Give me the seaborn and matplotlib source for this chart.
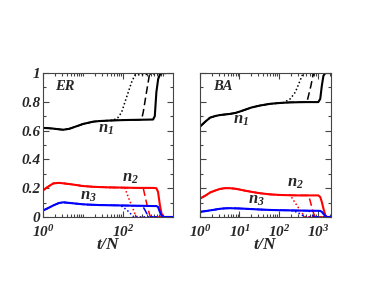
import matplotlib
matplotlib.use("Agg")
import matplotlib.pyplot as plt
import seaborn as sns
from matplotlib.ticker import FixedLocator, LogLocator, NullFormatter, FixedFormatter

sns.set_style("ticks")
plt.rcParams["font.family"] = ["Liberation Serif", "DejaVu Serif"]
plt.rcParams["font.weight"] = "bold"
plt.rcParams["font.style"] = "italic"
plt.rcParams["mathtext.fontset"] = "custom"
plt.rcParams["mathtext.rm"] = "Liberation Serif:italic:bold"
plt.rcParams["mathtext.it"] = "Liberation Serif:italic:bold"
plt.rcParams["mathtext.bf"] = "Liberation Serif:italic:bold"

# ---------------- ER panel data ----------------
ER_T = [1, 1.3, 1.8, 2.5, 3.2, 4.5, 5.7, 8, 10, 14, 18, 25, 39, 60, 100, 150, 250, 400, 570]
ER_N1 = [0.619, 0.617, 0.614, 0.609, 0.606, 0.612, 0.622, 0.636, 0.646, 0.655, 0.662, 0.666,
         0.669, 0.671, 0.673, 0.674, 0.675, 0.676, 0.677]
ER_N2 = [0.185, 0.208, 0.233, 0.237, 0.234, 0.229, 0.225, 0.219, 0.215, 0.212, 0.210, 0.208,
         0.206, 0.205, 0.204, 0.203, 0.202, 0.202, 0.202]
ER_N3 = [0.045, 0.060, 0.080, 0.097, 0.102, 0.098, 0.095, 0.091, 0.088, 0.086, 0.085, 0.083,
         0.082, 0.081, 0.080, 0.079, 0.078, 0.077, 0.076]

ER_N1_SOLID_T = [630, 690, 765, 850, 930, 1800]
ER_N1_SOLID_V = [0.70, 0.866, 0.958, 0.99, 1.0, 1.0]
ER_N1_DASH_T = [293, 323, 390, 470, 1800]
ER_N1_DASH_V = [0.676, 0.727, 0.866, 1.0, 1.0]
ER_N1_DOT_T = [56, 75, 93, 112, 136, 165, 200, 1800]
ER_N1_DOT_V = [0.671, 0.69, 0.727, 0.796, 0.866, 0.935, 0.986, 1.0]

ER_N2_SOLID_T = [690, 760, 845, 930, 1050, 1800]
ER_N2_SOLID_V = [0.2, 0.174, 0.082, 0.023, 0.0, 0.0]
ER_N2_DASH_T = [323, 355, 405, 460, 490, 1800]
ER_N2_DASH_V = [0.202, 0.150, 0.081, 0.023, 0.0, 0.0]
ER_N2_DOT_T = [112, 136, 165, 200, 228, 1800]
ER_N2_DOT_V = [0.203, 0.139, 0.081, 0.023, 0.0, 0.0]

ER_N3_SOLID_T = [690, 760, 845, 930, 1050, 1800]
ER_N3_SOLID_V = [0.076, 0.07, 0.035, 0.01, 0.0, 0.0]
ER_N3_DASH_T = [310, 355, 405, 460, 1800]
ER_N3_DASH_V = [0.077, 0.05, 0.02, 0.0, 0.0]
ER_N3_DOT_T = [84, 100, 136, 165, 190, 1800]
ER_N3_DOT_V = [0.081, 0.07, 0.04, 0.016, 0.0, 0.0]

# ---------------- BA panel data ----------------
BA_T = [1, 1.4, 1.8, 2.5, 3.2, 4.3, 5.8, 8, 10.4, 15, 20, 33, 60, 108, 193, 300, 500, 800, 1000]
BA_N1 = [0.628, 0.665, 0.690, 0.702, 0.708, 0.712, 0.716, 0.723, 0.733, 0.748, 0.760, 0.774,
         0.786, 0.792, 0.796, 0.797, 0.798, 0.798, 0.798]
BA_N2 = [0.128, 0.150, 0.170, 0.185, 0.195, 0.200, 0.200, 0.196, 0.190, 0.181, 0.175, 0.165,
         0.157, 0.153, 0.151, 0.150, 0.150, 0.150, 0.150]
BA_N3 = [0.036, 0.041, 0.046, 0.052, 0.057, 0.060, 0.061, 0.060, 0.059, 0.057, 0.055, 0.052,
         0.049, 0.047, 0.046, 0.045, 0.044, 0.043, 0.043]

BA_N1_SOLID_T = [1120, 1230, 1350, 1510, 2100]
BA_N1_SOLID_V = [0.82, 0.912, 0.981, 1.0, 1.0]
BA_N1_DASH_T = [515, 565, 650, 730, 790, 2100]
BA_N1_DASH_V = [0.798, 0.843, 0.912, 0.981, 1.0, 1.0]
BA_N1_DOT_T = [130, 194, 260, 315, 385, 425, 2100]
BA_N1_DOT_V = [0.794, 0.82, 0.866, 0.92, 0.98, 1.0, 1.0]

BA_N2_SOLID_T = [1120, 1230, 1350, 1510, 1660, 2100]
BA_N2_SOLID_V = [0.139, 0.104, 0.058, 0.012, 0.0, 0.0]
BA_N2_DASH_T = [565, 625, 690, 760, 835, 2100]
BA_N2_DASH_V = [0.15, 0.11, 0.065, 0.025, 0.0, 0.0]
BA_N2_DOT_T = [194, 235, 286, 347, 425, 465, 2100]
BA_N2_DOT_V = [0.151, 0.116, 0.081, 0.046, 0.012, 0.0, 0.0]

BA_N3_SOLID_T = [1120, 1230, 1350, 1510, 1660, 2100]
BA_N3_SOLID_V = [0.042, 0.036, 0.022, 0.006, 0.0, 0.0]
BA_N3_DASH_T = [565, 625, 690, 760, 835, 2100]
BA_N3_DASH_V = [0.044, 0.036, 0.02, 0.006, 0.0, 0.0]
BA_N3_DOT_T = [194, 260, 347, 425, 465, 2100]
BA_N3_DOT_V = [0.046, 0.038, 0.022, 0.006, 0.0, 0.0]

Y_TICKS = [0, 0.2, 0.4, 0.6, 0.8, 1.0]
Y_TICK_LABELS = ["0", "0.2", "0.4", "0.6", "0.8", "1"]
ER_X_TICKS = [1, 100]
ER_X_TICK_LABELS = ["$10^{0}$", "$10^{2}$"]
BA_X_TICKS = [1, 10, 100, 1000]
BA_X_TICK_LABELS = ["$10^{0}$", "$10^{1}$", "$10^{2}$", "$10^{3}$"]

COLORS = ["black", "#ff0000", "#0000ff"]
STYLES = {"dot": (0, (1, 1.5)), "dash": (0, (5, 2.5)), "solid": "-"}


def full_series(base_t, base_v, tail_t, tail_v):
    t = [x for x in base_t if x < tail_t[0]] + list(tail_t)
    v = [y for x, y in zip(base_t, base_v) if x < tail_t[0]] + list(tail_v)
    return t, v


def draw(ax, base_t, bases, tails):
    for kind in ["dot", "dash", "solid"]:
        for i, (bv, tl) in enumerate(zip(bases, tails)):
            tt, vv = full_series(base_t, bv, *tl[kind])
            sns.lineplot(x=tt, y=vv, ax=ax, color=COLORS[i], linestyle=STYLES[kind],
                         linewidth=1.5 if kind == "solid" else 1.1,
                         estimator=None, sort=False)


fig = plt.figure(figsize=(3.74, 2.89), dpi=100)
ax1 = fig.add_axes([43 / 374, 1 - 217 / 289, 130 / 374, 144 / 289])
ax2 = fig.add_axes([200 / 374, 1 - 217 / 289, 131 / 374, 144 / 289])

draw(ax1, ER_T, [ER_N1, ER_N2, ER_N3], [
    {"solid": (ER_N1_SOLID_T, ER_N1_SOLID_V), "dash": (ER_N1_DASH_T, ER_N1_DASH_V), "dot": (ER_N1_DOT_T, ER_N1_DOT_V)},
    {"solid": (ER_N2_SOLID_T, ER_N2_SOLID_V), "dash": (ER_N2_DASH_T, ER_N2_DASH_V), "dot": (ER_N2_DOT_T, ER_N2_DOT_V)},
    {"solid": (ER_N3_SOLID_T, ER_N3_SOLID_V), "dash": (ER_N3_DASH_T, ER_N3_DASH_V), "dot": (ER_N3_DOT_T, ER_N3_DOT_V)},
])
draw(ax2, BA_T, [BA_N1, BA_N2, BA_N3], [
    {"solid": (BA_N1_SOLID_T, BA_N1_SOLID_V), "dash": (BA_N1_DASH_T, BA_N1_DASH_V), "dot": (BA_N1_DOT_T, BA_N1_DOT_V)},
    {"solid": (BA_N2_SOLID_T, BA_N2_SOLID_V), "dash": (BA_N2_DASH_T, BA_N2_DASH_V), "dot": (BA_N2_DOT_T, BA_N2_DOT_V)},
    {"solid": (BA_N3_SOLID_T, BA_N3_SOLID_V), "dash": (BA_N3_DASH_T, BA_N3_DASH_V), "dot": (BA_N3_DOT_T, BA_N3_DOT_V)},
])

for ax, xmax, xt, xtl in [(ax1, 1800, ER_X_TICKS, ER_X_TICK_LABELS),
                          (ax2, 2100, BA_X_TICKS, BA_X_TICK_LABELS)]:
    ax.set_xscale("log")
    ax.set_xlim(1, xmax)
    ax.set_ylim(0, 1)
    ax.xaxis.set_major_locator(FixedLocator(xt))
    ax.xaxis.set_major_formatter(FixedFormatter(xtl))
    ax.xaxis.set_minor_locator(LogLocator(base=10, subs=range(1, 10), numticks=20))
    ax.xaxis.set_minor_formatter(NullFormatter())
    ax.set_yticks(Y_TICKS)
    ax.set_yticks([0.1, 0.3, 0.5, 0.7, 0.9], minor=True)
    ax.tick_params(which="both", direction="in", top=True, right=True,
                   color="#444444", width=0.8, labelsize=11)
    ax.tick_params(axis="y", pad=2)
    ax.tick_params(axis="x", pad=5)
    ax.tick_params(which="major", length=4)
    ax.tick_params(which="minor", length=2)
    for s in ax.spines.values():
        s.set_visible(True)
        s.set_color("#444444")
        s.set_linewidth(0.8)
    ax.set_xlabel("$t/N$", fontsize=12.5, labelpad=-2)
    ax.set_ylabel("")

ax1.set_yticklabels(Y_TICK_LABELS)
ax2.set_yticklabels([])
for lab in ax1.get_yticklabels():
    lab.set_fontweight("bold")
    lab.set_fontstyle("italic")

ax1.text(0.092, 0.882, "ER", transform=ax1.transAxes, fontsize=10.5, fontweight="bold", fontstyle="italic")
ax1.text(0.423, 0.583, "$n_1$", transform=ax1.transAxes, fontsize=12)
ax1.text(0.608, 0.243, "$n_2$", transform=ax1.transAxes, fontsize=12)
ax1.text(0.285, 0.118, "$n_3$", transform=ax1.transAxes, fontsize=12)

ax2.text(0.099, 0.882, "BA", transform=ax2.transAxes, fontsize=10.5, fontweight="bold", fontstyle="italic")
ax2.text(0.252, 0.646, "$n_1$", transform=ax2.transAxes, fontsize=12)
ax2.text(0.664, 0.208, "$n_2$", transform=ax2.transAxes, fontsize=12)
ax2.text(0.366, 0.090, "$n_3$", transform=ax2.transAxes, fontsize=12)

fig.savefig("out.png", dpi=100)
